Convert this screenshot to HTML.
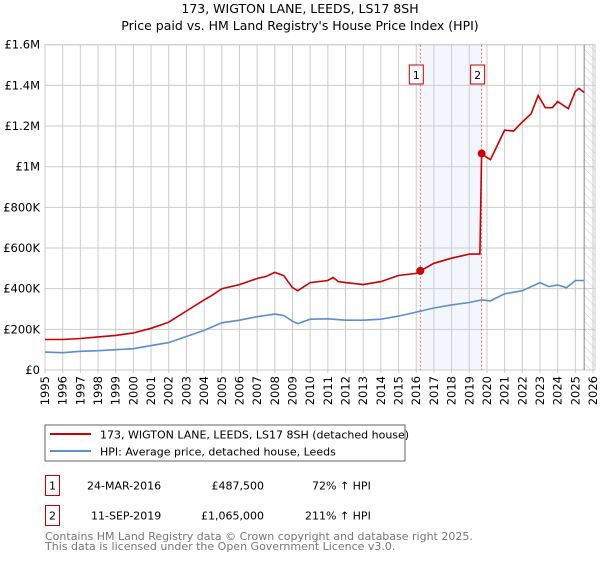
<!DOCTYPE html>
<html><head><meta charset="utf-8"><style>
body{margin:0;background:#fff;font-family:"Liberation Sans","DejaVu Sans",sans-serif;}
svg text{font-family:"DejaVu Sans","Liberation Sans",sans-serif;}
</style></head><body>
<svg id="c" width="600" height="560" viewBox="0 0 600 560">
<defs><pattern id="hatch" width="6" height="6" patternUnits="userSpaceOnUse" patternTransform="rotate(-45)"><line x1="0" y1="0" x2="0" y2="6" stroke="#ccc" stroke-width="1"/></pattern></defs>
<text x="300" y="13" text-anchor="middle" font-size="12.5">173, WIGTON LANE, LEEDS, LS17 8SH</text>
<text x="300" y="30" text-anchor="middle" font-size="12.5">Price paid vs. HM Land Registry's House Price Index (HPI)</text>
<g id="grid"></g><g id="marks"></g>
<rect x="45" y="425" width="360" height="36" fill="#fff" stroke="#666"/>
<line x1="50" y1="434" x2="91" y2="434" stroke="#cc0000" stroke-width="2"/>
<text x="100" y="438.5" font-size="11">173, WIGTON LANE, LEEDS, LS17 8SH (detached house)</text>
<line x1="50" y1="451" x2="91" y2="451" stroke="#5b8fd0" stroke-width="2"/>
<text x="100" y="455.5" font-size="11">HPI: Average price, detached house, Leeds</text>
<g>
<rect x="45.5" y="475.5" width="14" height="20" fill="none" stroke="#cc0000"/><text x="52.5" y="489.5" font-size="11" text-anchor="middle">1</text>
<text x="87" y="489.5" font-size="11">24-MAR-2016</text><text x="264" y="489.5" font-size="11" text-anchor="end">£487,500</text><text x="312" y="489.5" font-size="11">72% ↑ HPI</text></g>
<g>
<rect x="45.5" y="505.5" width="14" height="20" fill="none" stroke="#cc0000"/><text x="52.5" y="519.5" font-size="11" text-anchor="middle">2</text>
<text x="91" y="519.5" font-size="11">11-SEP-2019</text><text x="264" y="519.5" font-size="11" text-anchor="end">£1,065,000</text><text x="305" y="519.5" font-size="11">211% ↑ HPI</text></g>
<text x="45" y="540" font-size="11" fill="#777">Contains HM Land Registry data © Crown copyright and database right 2025.</text>
<text x="45" y="550" font-size="11" fill="#777">This data is licensed under the Open Government Licence v3.0.</text>
</svg>
<script>
const yTicks=[0,200,400,600,800,1000,1200,1400,1600];
const yTickLabels=["£0","£200K","£400K","£600K","£800K","£1M","£1.2M","£1.4M","£1.6M"];
const xYears=[1995,1996,1997,1998,1999,2000,2001,2002,2003,2004,2005,2006,2007,2008,2009,2010,2011,2012,2013,2014,2015,2016,2017,2018,2019,2020,2021,2022,2023,2024,2025,2026];
const hpiT=[1995,1996,1997,1998,1999,2000,2001,2002,2003,2004,2005,2006,2007,2008,2008.5,2009,2009.3,2010,2011,2012,2013,2014,2015,2016,2017,2018,2019,2019.7,2020.2,2021,2022,2023,2023.5,2024,2024.5,2025,2025.5];
const hpiV=[88,85,92,95,100,105,120,135,165,195,232,245,262,275,268,240,228,250,252,245,245,250,265,285,305,320,332,345,340,375,390,430,410,418,405,440,440];
const propT=[1995,1996,1997,1998,1999,2000,2001,2002,2003,2004,2004.5,2005,2006,2007,2007.5,2008,2008.5,2009,2009.3,2010,2011,2011.3,2011.6,2012,2013,2014,2015,2016,2016.23,2017,2018,2019,2019.6,2019.7,2020,2020.2,2021,2021.5,2022,2022.5,2022.9,2023.3,2023.7,2024,2024.6,2025,2025.2,2025.5];
const propV=[150,150,155,163,170,182,205,235,290,345,370,400,420,450,460,480,465,405,390,430,440,455,435,430,420,435,465,475,487.5,525,550,570,570,1065,1045,1035,1180,1175,1220,1260,1350,1290,1290,1320,1285,1370,1385,1365];
const saleT=[2016.23,2019.7];
const saleV=[487.5,1065];
const saleLabels=["1","2"];
const X0=45,X1=593,Y0=370,Y1=44.7;
const x=t=>X0+(t-1995)/(2026-1995)*(X1-X0);
const y=v=>Y0-v/1600*(Y0-Y1);
const NS="http://www.w3.org/2000/svg";
function mk(p,tag,a){const e=document.createElementNS(NS,tag);for(const k in a)e.setAttribute(k,a[k]);p.appendChild(e);return e;}
const g=document.getElementById('grid'),m=document.getElementById('marks');
let r=mk(g,'rect',{x:x(saleT[0]),y:Y1,width:x(saleT[1])-x(saleT[0]),height:Y0-Y1,fill:'#eef3fc',opacity:0.7});


r=mk(g,'rect',{x:x(2025.5),y:Y1,width:595-x(2025.5),height:Y0-Y1,fill:'url(#hatch)'});


yTicks.forEach((v,i)=>{mk(g,'line',{x1:X0,x2:595,y1:y(v),y2:y(v),stroke:'#ccc'});
const t=mk(g,'text',{x:40,y:y(v)+4,'text-anchor':'end','font-size':11.5});t.textContent=yTickLabels[i];

});
xYears.forEach(yr=>{mk(g,'line',{x1:x(yr),x2:x(yr),y1:Y1,y2:Y0+3,stroke:'#ccc'});
const t=mk(g,'text',{transform:`translate(${x(yr)+4},${Y0+6}) rotate(-90)`,'text-anchor':'end','font-size':11.5});t.textContent=yr;

});
mk(g,'rect',{x:X0,y:Y1,width:595-X0,height:Y0-Y1,fill:'none',stroke:'#ccc'});
mk(g,'line',{x1:x(2025.5),x2:x(2025.5),y1:Y1,y2:Y0,stroke:'#888'});
saleT.forEach((t,i)=>{const l=mk(g,'line',{x1:x(t),x2:x(t),y1:Y1,y2:Y0,stroke:'#f06060','stroke-dasharray':'2,2'});

});
const line=(T,V,c)=>T.map((t,i)=>(i?'L':'M')+x(t).toFixed(1)+','+y(V[i]).toFixed(1)).join('');
let p=mk(m,'path',{d:line(hpiT,hpiV),fill:'none',stroke:'#5b8fd0','stroke-width':1.6});


p=mk(m,'path',{d:line(propT,propV),fill:'none',stroke:'#cc0000','stroke-width':1.6});


saleT.forEach((t,i)=>{const c=mk(m,'circle',{cx:x(t),cy:y(saleV[i]),r:4,fill:'#cc0000'});


const b=mk(m,'rect',{x:x(t)-11,y:65,width:14,height:19,fill:'#fff',stroke:'#cc0000'});


const tx=mk(m,'text',{x:x(t)-4,y:79,'text-anchor':'middle','font-size':11});tx.textContent=saleLabels[i];

});
</script>
</body></html>
